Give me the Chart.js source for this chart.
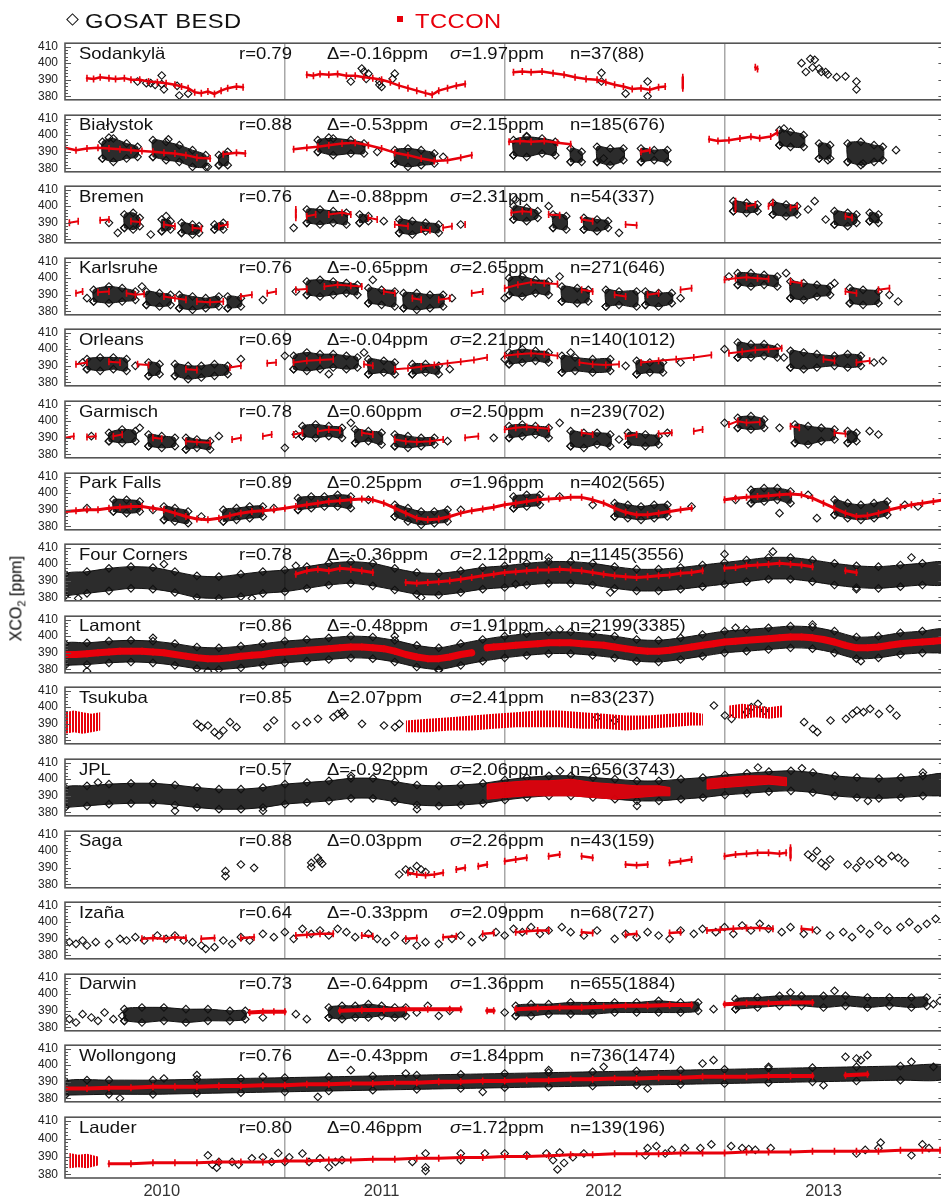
<!DOCTYPE html>
<html>
<head>
<meta charset="utf-8">
<script src="https://cdn.jsdelivr.net/npm/chart.js@4.4.1/dist/chart.umd.min.js"></script>
<style>
html, body { margin: 0; padding: 0; background: #fff; overflow: hidden; }
#wrap { position: relative; width: 941px; height: 1202px; overflow: hidden; font-family: "Liberation Sans", Arial, Helvetica, sans-serif; }
#wrap canvas { position: absolute; left: 0; }
.txt { position: absolute; font-size: 16.5px; line-height: 17px; color: #111; white-space: nowrap; z-index: 5; transform: scaleX(1.12); transform-origin: 0 50%; }
.legend { position: absolute; font-size: 21px; line-height: 21px; letter-spacing: 0.4px; white-space: nowrap; transform: scaleX(1.13); transform-origin: 0 50%; }
</style>
</head>
<body>
<div id="wrap"></div>
<script>
// station labels and statistics
const stationNames = ['Sodankylä', 'Białystok', 'Bremen', 'Karlsruhe', 'Orleans', 'Garmisch', 'Park Falls', 'Four Corners',
  'Lamont', 'Tsukuba', 'JPL', 'Saga', 'Izaña', 'Darwin', 'Wollongong', 'Lauder'];
const rValues = [0.79, 0.88, 0.76, 0.76, 0.69, 0.78, 0.89, 0.78, 0.86, 0.85, 0.57, 0.88, 0.64, 0.73, 0.76, 0.80];
const deltaValues = [-0.16, -0.53, -0.88, -0.65, -0.04, 0.60, 0.25, -0.36, -0.48, 2.07, -0.92, 0.03, -0.33, -0.64, -0.43, 0.46];
const sigmaValues = [1.97, 2.15, 2.31, 2.65, 2.21, 2.50, 1.96, 2.12, 1.91, 2.41, 2.06, 2.26, 2.09, 1.36, 1.84, 1.72];
const nLabels = ['37(88)', '185(676)', '54(337)', '271(646)', '140(1012)', '239(702)', '402(565)', '1145(3556)',
  '2199(3385)', '83(237)', '656(3743)', '43(159)', '68(727)', '655(1884)', '736(1474)', '139(196)'];

const yTickValues = [380, 390, 400, 410];
const yearLines = [2011, 2012, 2013];
const yearLabelAt = [2010.44, 2011.44, 2012.45, 2013.45];

// [year, ppm]; null breaks a run.  Band rows are [year, low, high].
const sodankylaGosat = [[2010.33,389],[2010.37,388],[2010.39,388],[2010.41,387],[2010.44,392.6],[2010.44,387.4],[2010.45,384.3],[2010.51,386.4],[2010.52,380.6],[2010.56,381.7],
  [2011.3,389],[2011.35,396.8],[2011.36,395],[2011.38,393.7],[2011.37,390.6],[2011.43,389],[2011.43,387],[2011.44,385.8],[2011.5,393.7],[2011.49,390.6],
  [2012.44,394.2],[2012.44,389],[2012.55,381.7],[2012.65,389],[2012.65,380.1],
  [2013.35,400],[2013.37,394.7],[2013.39,402.6],[2013.4,397.4],[2013.41,402],[2013.43,396.8],[2013.44,394.7],[2013.46,394.7],[2013.47,393.2],[2013.51,391.6],[2013.55,392.1],[2013.6,389],[2013.6,384.3]];
const sodankylaTccon = [[2010.1,391],[2010.13,390.5],[2010.16,391.5],[2010.2,391],[2010.23,390.5],[2010.27,391],[2010.3,390],[2010.34,390],[2010.38,389],[2010.42,388.5],[2010.46,388],[2010.5,387],[2010.53,386],[2010.56,385],[2010.59,382.5],[2010.62,382],[2010.65,383],[2010.68,381.5],[2010.71,383.5],[2010.74,385],[2010.78,386],[2010.81,385.5], null,
  [2011.1,393],[2011.13,392.5],[2011.16,393.5],[2011.2,393],[2011.24,393.5],[2011.28,392.5],[2011.32,392.5],[2011.36,391.5],[2011.4,391],[2011.44,390],[2011.48,388.5],[2011.52,386.5],[2011.56,385],[2011.6,383.5],[2011.64,382],[2011.67,381],[2011.7,383.5],[2011.74,385],[2011.78,386.5],[2011.82,387.5], null,
  [2012.04,394.5],[2012.08,395],[2012.12,394.5],[2012.17,395],[2012.22,394],[2012.27,393],[2012.32,391.5],[2012.37,390.5],[2012.42,390],[2012.46,388.5],[2012.5,387],[2012.54,386],[2012.58,384.5],[2012.62,385],[2012.66,384],[2012.7,385.5],[2012.73,386], null,
  [2012.81,385],[2012.81,391.5], null, [2013.14,397.5],[2013.15,396.5]];

const bialystokGosat = [[2010.2,398.5],[2010.47,397.5],[2010.65,381],[2011.2,398.5],[2011.42,390],[2011.72,387],[2012.1,399.5],[2012.45,386],[2013.27,404],[2013.47,385],[2013.78,391],[2013.63,383]];
const bialystokGosatBands = [[2010.17,386,396],[2010.22,384,398],[2010.28,386,395],[2010.33,387,393], null,
  [2010.4,387,397],[2010.46,385,396],[2010.52,384,394],[2010.58,381,391],[2010.64,381,388], null, [2010.7,382,388],[2010.74,382,390], null,
  [2011.15,390,397],[2011.22,388,398],[2011.3,389,397],[2011.36,389,395], null, [2011.5,383,391],[2011.56,381,392],[2011.62,382,391],[2011.68,383,389], null,
  [2012.04,388,397],[2012.1,387,399],[2012.17,389,398],[2012.23,388,396], null, [2012.3,384,392],[2012.35,384,390], null,
  [2012.42,384,393],[2012.48,382,392],[2012.54,385,392], null, [2012.62,384,392],[2012.68,385,391],[2012.74,384,391], null,
  [2013.25,394,403],[2013.3,393,402],[2013.36,393,400], null, [2013.43,386,395],[2013.48,386,394], null,
  [2013.56,384,395],[2013.62,382,396],[2013.68,384,394],[2013.72,385,393]];
const bialystokTccon = [[2010.0,392.5],[2010.05,391],[2010.1,392],[2010.15,392.5],[2010.2,392],[2010.25,391.5],[2010.3,391],[2010.35,390.5],[2010.4,390],[2010.45,389.5],[2010.5,389],[2010.55,388],[2010.6,386.5],[2010.66,386], null, [2010.72,388.5],[2010.78,389.5],[2010.82,389], null,
  [2011.04,391.5],[2011.1,392.5],[2011.15,393],[2011.2,394],[2011.26,395],[2011.32,395.5],[2011.38,394],[2011.44,392],[2011.5,389.5],[2011.56,388],[2011.62,386],[2011.68,384.5],[2011.74,385],[2011.8,386.5],[2011.85,388], null,
  [2012.02,396],[2012.07,396.5],[2012.12,396],[2012.18,396.5],[2012.24,395.5],[2012.3,394.5], null, [2012.62,390],[2012.66,391], null,
  [2012.93,397.5],[2012.97,396.5],[2013.02,397],[2013.07,398],[2013.12,399],[2013.16,398.2],[2013.21,399.2],[2013.24,401.5]];

const bremenGosat = [[2010.2,390],[2010.24,384],[2010.39,383],[2010.46,394],[2011.04,387],[2011.45,391],[2011.8,389],[2012.52,384],[2012.2,400],[2013.41,403],[2013.38,398],[2013.46,392],[2012.05,404]];
const bremenGosatBands = [[2010.27,387,395],[2010.31,386,396],[2010.34,388,393], null,
  [2010.44,385,392],[2010.48,386,391], null, [2010.53,384,390],[2010.58,383,389],[2010.61,384,388], null, [2010.68,386,389],[2010.72,386,390], null,
  [2011.1,390,398],[2011.16,389,398],[2011.22,390,397],[2011.28,389,396], null, [2011.34,390,395],[2011.38,391,394], null,
  [2011.52,384,392],[2011.58,383,391],[2011.64,385,390],[2011.7,384,389], null,
  [2012.04,392,400],[2012.1,391,399],[2012.15,393,397], null, [2012.22,387,395],[2012.28,386,394], null, [2012.36,386,393],[2012.42,385,392],[2012.47,387,391], null,
  [2013.04,397,403],[2013.1,396,402],[2013.15,397,401], null, [2013.22,395,402],[2013.28,394,401],[2013.33,395,400], null,
  [2013.5,389,397],[2013.56,388,396],[2013.6,390,395], null, [2013.66,391,396],[2013.7,390,395]];
const bremenTccon = [[2010.02,390],[2010.06,391], null, [2010.16,391.5],[2010.2,392], null, [2010.3,391],[2010.34,390.5], null, [2010.45,389],[2010.5,388], null, [2010.58,387],[2010.62,386.5], null, [2010.7,388],[2010.74,389], null,
  [2011.05,393],[2011.05,398], null, [2011.1,394],[2011.14,395], null, [2011.2,395],[2011.26,396],[2011.3,395], null, [2011.38,393],[2011.42,392], null, [2011.5,389],[2011.56,388], null, [2011.62,386],[2011.66,385.5], null, [2011.72,387],[2011.76,388], null, [2011.82,389], null,
  [2012.03,396],[2012.08,397],[2012.12,396.5], null, [2012.2,395],[2012.25,394.5], null, [2012.35,392],[2012.4,391], null, [2012.55,389],[2012.6,388.5], null,
  [2013.05,398],[2013.05,403], null, [2013.1,400],[2013.14,401], null, [2013.2,400],[2013.22,402], null, [2013.3,399],[2013.33,400], null, [2013.55,394],[2013.58,393]];

const karlsruheGosat = [[2010.1,388],[2010.35,395],[2010.9,387],[2011.05,392],[2011.4,399],[2011.76,388],[2012.0,388],[2012.25,401],[2012.8,388],[2013.02,401],[2013.5,397],[2013.75,390],[2013.79,386],[2013.28,403]];
const karlsruheGosatBands = [[2010.13,386,393],[2010.2,385,395],[2010.26,386,394],[2010.32,387,392], null,
  [2010.37,384,392],[2010.43,383,391],[2010.48,384,390], null, [2010.52,382,390],[2010.58,381,389],[2010.64,382,388],[2010.7,383,389], null, [2010.74,382,389],[2010.8,383,388], null,
  [2011.1,390,398],[2011.16,389,399],[2011.22,390,398],[2011.28,391,397],[2011.33,390,396], null,
  [2011.38,385,394],[2011.44,384,393],[2011.5,383,392], null, [2011.54,382,391],[2011.6,381,391],[2011.66,382,390],[2011.72,383,390], null,
  [2012.02,390,400],[2012.08,389,401],[2012.14,391,399],[2012.2,390,398], null, [2012.26,386,395],[2012.33,385,394],[2012.38,386,393], null,
  [2012.46,383,393],[2012.52,384,392],[2012.6,383,392], null, [2012.64,384,392],[2012.7,383,391],[2012.76,385,391], null,
  [2013.06,396,403],[2013.12,395,403],[2013.18,396,402],[2013.24,395,401], null, [2013.3,388,398],[2013.36,387,397],[2013.42,389,396],[2013.48,390,395], null,
  [2013.57,385,394],[2013.63,384,393],[2013.7,385,392]];
const karlsruheTccon = [[2010.05,391],[2010.08,392], null, [2010.15,391.5],[2010.2,392], null, [2010.28,391],[2010.32,390],[2010.36,390.5], null, [2010.45,389],[2010.5,388],[2010.55,387], null, [2010.6,386],[2010.66,385.5],[2010.72,386], null, [2010.8,389],[2010.85,390], null, [2010.92,391],[2010.96,392], null,
  [2011.05,393],[2011.1,393.5], null, [2011.18,395],[2011.24,396],[2011.3,395.5],[2011.35,395], null, [2011.45,392],[2011.5,391], null, [2011.58,388],[2011.62,387], null, [2011.7,387],[2011.75,388], null, [2011.85,391],[2011.9,392], null,
  [2012.0,394],[2012.06,396],[2012.12,397.5],[2012.18,397],[2012.24,396.5], null, [2012.35,393],[2012.4,392], null, [2012.5,390],[2012.55,389], null, [2012.65,390],[2012.7,391], null, [2012.8,393],[2012.85,394], null,
  [2013.0,399],[2013.05,400],[2013.1,400.5],[2013.15,400],[2013.2,399.5], null, [2013.3,398],[2013.35,397], null, [2013.55,392],[2013.6,391], null, [2013.7,393],[2013.75,394]];

const orleansGosat = [[2010.08,392],[2010.32,390],[2010.8,394],[2011.0,396],[2011.36,398],[2011.75,388],[2012.0,394],[2012.55,390],[2012.8,392],[2013.0,400],[2013.27,395],[2013.68,392],[2013.72,393],[2012.3,398],[2011.2,385]];
const orleansGosatBands = [[2010.1,388,394],[2010.16,387,395],[2010.22,388,395],[2010.28,387,394], null,
  [2010.38,384,392],[2010.43,385,391], null, [2010.5,384,391],[2010.56,382,390],[2010.62,383,390],[2010.68,384,391],[2010.74,385,390], null,
  [2011.04,388,396],[2011.1,387,398],[2011.16,388,397],[2011.22,389,397],[2011.28,388,396],[2011.33,389,395], null,
  [2011.38,385,394],[2011.45,386,393],[2011.5,385,392], null, [2011.58,385,391],[2011.64,386,391],[2011.7,385,390], null,
  [2012.02,391,398],[2012.08,392,400],[2012.14,393,399],[2012.2,392,398], null, [2012.26,386,396],[2012.32,387,395],[2012.4,386,394],[2012.48,387,394], null,
  [2012.6,385,393],[2012.66,386,392],[2012.72,386,392], null,
  [2013.06,395,404],[2013.12,395,403],[2013.18,396,403],[2013.24,395,401], null,
  [2013.3,389,399],[2013.36,388,398],[2013.42,389,397],[2013.5,390,396],[2013.56,389,397],[2013.62,390,396]];
const orleansTccon = [[2010.05,391],[2010.1,392], null, [2010.2,392.5],[2010.25,392], null, [2010.33,391],[2010.38,390.5], null, [2010.55,388],[2010.6,387.5], null, [2010.75,389],[2010.8,390], null, [2010.92,391.5],[2010.96,392], null,
  [2011.04,392],[2011.1,393],[2011.16,393.5],[2011.22,394], null, [2011.36,391],[2011.4,390], null,
  [2011.5,388],[2011.56,388.5],[2011.62,389.5],[2011.68,390.5],[2011.74,391.5],[2011.8,392.5],[2011.86,393.5],[2011.92,395], null,
  [2012.0,396],[2012.06,397],[2012.12,397.5],[2012.18,397],[2012.24,396], null, [2012.34,392],[2012.4,391],[2012.46,390.5],[2012.52,391], null,
  [2012.62,392],[2012.7,393],[2012.78,394],[2012.86,395],[2012.94,396.5], null,
  [2013.02,397.5],[2013.08,398.5],[2013.14,399.5],[2013.2,400],[2013.26,400.5], null, [2013.45,394],[2013.5,393], null, [2013.6,392],[2013.66,393]];

const garmischGosat = [[2010.12,391],[2010.34,396],[2010.7,391],[2011.0,384],[2011.05,392],[2011.3,399],[2011.74,388],[2012.25,399],[2012.52,389],[2012.74,393],[2013.0,399],[2013.25,396],[2013.66,394],[2013.7,392],[2011.95,390]];
const garmischGosatBands = [[2010.2,388,393],[2010.26,387,395],[2010.32,388,394], null,
  [2010.38,385,392],[2010.44,384,391],[2010.5,385,390], null, [2010.55,383,390],[2010.6,384,389],[2010.66,383,388], null,
  [2011.08,391,397],[2011.14,390,398],[2011.2,391,397],[2011.26,390,396], null,
  [2011.32,387,395],[2011.38,388,394],[2011.44,386,393], null, [2011.5,385,392],[2011.56,384,391],[2011.62,385,390],[2011.68,386,390], null,
  [2012.02,390,397],[2012.08,391,398],[2012.14,392,397],[2012.2,390,396], null,
  [2012.3,385,394],[2012.36,384,393],[2012.42,386,393],[2012.48,385,392], null, [2012.56,386,393],[2012.64,385,392],[2012.7,386,391], null,
  [2013.06,396,402],[2013.12,395,403],[2013.18,396,401], null, [2013.32,387,398],[2013.38,386,397],[2013.44,388,396],[2013.5,389,395], null, [2013.56,387,394],[2013.6,388,393]];
const garmischTccon = [[2010.0,390],[2010.04,391], null, [2010.1,390.5],[2010.14,391], null, [2010.22,391],[2010.26,392], null, [2010.4,390],[2010.44,389.5], null, [2010.55,388],[2010.6,387.5],[2010.66,387], null, [2010.76,389],[2010.8,390], null, [2010.9,391],[2010.94,392], null,
  [2011.04,392],[2011.08,393], null, [2011.15,394],[2011.2,395],[2011.25,394.5], null, [2011.35,393],[2011.4,392], null, [2011.5,389],[2011.55,388],[2011.6,387.5],[2011.66,388],[2011.72,389], null, [2011.82,390],[2011.88,391], null,
  [2012.0,395],[2012.05,396],[2012.1,396.5],[2012.15,396],[2012.2,395.5], null, [2012.35,393],[2012.4,392], null, [2012.55,391],[2012.6,392], null, [2012.7,392.5],[2012.76,393], null, [2012.86,394],[2012.9,395], null,
  [2013.02,398],[2013.06,400],[2013.1,399],[2013.16,399.5], null, [2013.3,397],[2013.34,396], null, [2013.5,393],[2013.55,392.5]];

const parkFallsGosat = [[2010.1,391],[2010.4,390],[2010.62,386],[2010.95,391],[2011.38,396],[2011.8,390],[2012.25,398],[2012.4,393],[2012.85,392],[2013.05,396],[2013.38,399],[2013.25,388],[2013.42,385],[2013.82,393],[2013.88,392]];
const parkFallsGosatBands = [[2010.22,389,396],[2010.28,388,396],[2010.34,389,395], null,
  [2010.45,384,392],[2010.5,383,391],[2010.56,382,389], null,
  [2010.72,383,390],[2010.78,384,391],[2010.84,385,392],[2010.9,386,392], null,
  [2011.06,390,397],[2011.12,391,398],[2011.18,392,398],[2011.24,392,399],[2011.3,391,398], null,
  [2011.5,386,393],[2011.56,383,391],[2011.62,381,389],[2011.68,382,389],[2011.74,383,390], null,
  [2012.04,391,398],[2012.1,392,399],[2012.16,393,399], null,
  [2012.5,386,394],[2012.56,385,393],[2012.62,384,392],[2012.68,385,393],[2012.74,386,393], null,
  [2013.12,394,402],[2013.18,395,403],[2013.24,396,403],[2013.3,394,401], null,
  [2013.5,387,396],[2013.56,385,394],[2013.62,384,393],[2013.68,385,394],[2013.74,387,395]];
const parkFallsTccon = [[2010.0,389],[2010.05,389.5],[2010.1,390],[2010.15,390],[2010.2,391],[2010.25,391.5],[2010.3,392],[2010.35,392],[2010.4,391],[2010.45,390],[2010.5,388],[2010.55,386],[2010.6,384.5],[2010.65,384],[2010.7,385],[2010.75,386.5],[2010.8,388],[2010.85,389],[2010.9,389.5],[2010.95,390],[2011.0,391],
  [2011.05,392],[2011.1,393],[2011.15,394],[2011.2,395],[2011.25,395.5],[2011.3,396],[2011.35,396.5],[2011.4,396],[2011.45,394],[2011.5,391],[2011.55,388],[2011.6,385],[2011.65,384],[2011.7,384.5],[2011.75,386],[2011.8,388],[2011.85,389.5],[2011.9,390.5],[2011.95,391.5],
  [2012.0,393],[2012.05,394],[2012.1,395],[2012.15,396],[2012.2,396.5],[2012.25,397],[2012.3,397.5],[2012.35,397.5],[2012.4,396],[2012.45,394],[2012.5,391],[2012.55,388.5],[2012.6,387],[2012.65,387],[2012.7,388],[2012.75,389],[2012.8,390],[2012.85,391], null,
  [2013.0,396],[2013.05,397],[2013.1,397.5],[2013.15,398],[2013.2,398.5],[2013.25,399],[2013.3,399.5],[2013.35,399],[2013.4,397],[2013.45,394],[2013.5,391],[2013.55,388],[2013.6,386],[2013.65,386.5],[2013.7,388],[2013.75,390],[2013.8,391.5],[2013.85,393],[2013.9,394],[2013.95,395],[2014.0,396]];

const fourCornersGosat = [[2010.06,379.5],[2010.45,400],[2011.05,399],[2011.62,380],[2012.2,404],[2012.48,383],[2013.0,406],[2013.22,407.5],[2013.6,385],[2013.85,404],[2010.85,379.5],[2012.05,388]];
const fourCornersGosatBands = [[2010.0,381,394],[2010.1,382.5,395.5],[2010.2,384,397.5],[2010.3,385.5,398.5],[2010.4,385,398],[2010.5,383,395.5],[2010.6,380,393],[2010.7,379.5,392.5],[2010.8,380.5,394],[2010.9,382.5,395.5],
  [2011.0,383.5,396.5],[2011.1,385.5,398.5],[2011.2,387.5,400.5],[2011.3,388.5,401.5],[2011.4,387,400.5],[2011.5,384.5,397.5],[2011.6,382,395],[2011.7,381.5,394.5],[2011.8,383,396],[2011.9,385,398],
  [2012.0,386,399],[2012.1,387.5,400.5],[2012.2,388.5,401.5],[2012.3,388.5,401.5],[2012.4,387.5,400.5],[2012.5,385.5,398.5],[2012.6,384,397],[2012.7,384,397],[2012.8,385,398],[2012.9,386.5,399.5],
  [2013.0,388,401],[2013.1,389.5,402.5],[2013.2,391,404],[2013.3,391,404],[2013.4,389.5,402.5],[2013.5,387.5,400.5],[2013.6,386,399],[2013.7,385.5,398.5],[2013.8,386.5,399.5],[2013.9,387.5,400.5],[2014.0,388,401]];
const fourCornersTccon = [[2011.05,394],[2011.1,396],[2011.15,397],[2011.2,396],[2011.25,397.5],[2011.3,397],[2011.35,396],[2011.4,395], null,
  [2011.55,389],[2011.6,388.5],[2011.65,389],[2011.7,389.5],[2011.75,390],[2011.8,391],[2011.85,392],[2011.9,393],[2011.95,394],[2012.0,395],[2012.05,395.5],[2012.1,396],[2012.15,396.5],[2012.2,396.5],[2012.25,397],[2012.3,396.5],[2012.35,396],[2012.4,395],[2012.45,394],[2012.5,393],[2012.55,392.5],[2012.6,392],[2012.65,392.5],[2012.7,393],[2012.75,393.5],[2012.8,394.5],[2012.85,395],[2012.9,396], null,
  [2013.0,397.5],[2013.05,398],[2013.1,399],[2013.15,399.5],[2013.2,400],[2013.25,400.5],[2013.3,400],[2013.35,399.5],[2013.4,398.5], null, [2013.55,396],[2013.6,395]];

const lamontGosat = [[2010.1,379],[2010.65,379],[2011.5,400],[2011.7,379.5],[2012.25,404],[2013.05,405],[2013.4,407],[2013.62,385],[2010.4,399]];
const lamontGosatBands = [[2010.0,382.5,395.5],[2010.1,383,396],[2010.2,384,397],[2010.3,384.5,397.5],[2010.4,384,397],[2010.5,382.5,395.5],[2010.6,380.5,393.5],[2010.7,380,393],[2010.8,381,394],[2010.9,382.5,395.5],
  [2011.0,384,397],[2011.1,385,398],[2011.2,386,399],[2011.3,387,400],[2011.4,386.5,399.5],[2011.5,384.5,397.5],[2011.6,381.5,394.5],[2011.7,380,393],[2011.8,382.5,395.5],[2011.9,385,398],
  [2012.0,387,400],[2012.1,388.5,401.5],[2012.2,389.5,402.5],[2012.3,389.5,402.5],[2012.4,388.5,401.5],[2012.5,387,400],[2012.6,385,398],[2012.7,384.5,397.5],[2012.8,386,399],[2012.9,388,401],
  [2013.0,390,403],[2013.1,391,404],[2013.2,392,405],[2013.3,393,406],[2013.4,392.5,405.5],[2013.5,390,403],[2013.6,386.5,399.5],[2013.7,387,400],[2013.8,389,402],[2013.9,390,403],[2014.0,391,404]];
const lamontTccon = [[2010.0,389],[2010.05,389],[2010.1,389.5],[2010.15,390],[2010.2,390.5],[2010.25,391],[2010.3,391],[2010.35,391],[2010.4,390.5],[2010.45,390],[2010.5,389],[2010.55,388],[2010.6,387],[2010.65,386.5],[2010.7,386.5],[2010.75,387],[2010.8,388],[2010.85,388.5],[2010.9,389],[2010.95,390],
  [2011.0,390.5],[2011.05,391],[2011.1,391.5],[2011.15,392],[2011.2,392.5],[2011.25,393],[2011.3,393.5],[2011.35,393.5],[2011.4,393],[2011.45,392.5],[2011.5,391],[2011.55,389],[2011.6,387.5],[2011.65,386.5],[2011.7,386.5],[2011.75,387.5],[2011.8,389],[2011.85,390], null,
  [2011.92,393],[2011.95,393.5],[2012.0,394],[2012.05,394.5],[2012.1,395],[2012.15,395.5],[2012.2,396],[2012.25,396],[2012.3,396],[2012.35,395.5],[2012.4,395],[2012.45,394.5],[2012.5,393.5],[2012.55,392.5],[2012.6,391.5],[2012.65,391],[2012.7,391],[2012.75,391.5],[2012.8,392.5],[2012.85,393.5],[2012.9,394.5],[2012.95,395.5],
  [2013.0,396.5],[2013.05,397],[2013.1,397.5],[2013.15,398],[2013.2,398.5],[2013.25,399],[2013.3,399.5],[2013.35,399.5],[2013.4,399],[2013.45,398],[2013.5,396.5],[2013.55,394.5],[2013.6,393],[2013.65,393],[2013.7,393.5],[2013.75,394.5],[2013.8,395.5],[2013.85,396],[2013.9,396.5],[2013.95,397],[2014.0,397.5]];

const tsukubaGosat = [[2010.6,390],[2010.62,388],[2010.65,389],[2010.68,385],[2010.7,383],[2010.72,386],[2010.75,391],[2010.78,388],[2010.92,388],[2010.95,392],[2011.05,389],[2011.1,391],[2011.15,393],[2011.22,394],[2011.24,396],[2011.26,397],[2011.27,395],[2011.35,390],[2011.45,389],[2011.5,388],[2011.52,390],
  [2012.42,394],[2012.5,392],[2012.95,401],[2013.0,395],[2013.03,393],[2013.1,397],[2013.12,400],[2013.15,402],[2013.18,398],[2013.36,391],[2013.4,387],[2013.42,385],[2013.48,392],[2013.55,393],[2013.58,396],[2013.6,398],[2013.63,397],[2013.66,399],[2013.7,396],[2013.75,399],[2013.78,395]];
const tsukubaTcconBands = [[2010.0,384,397],[2010.04,385,398],[2010.08,384,397],[2010.12,385,396],[2010.16,386,397], null,
  [2011.55,385,392],[2011.65,385,393],[2011.75,386,394],[2011.85,386,395],[2011.95,387,396],[2012.05,388,397],[2012.15,388,398],[2012.25,388,398],[2012.35,387,397],[2012.45,387,396],[2012.55,386,395],[2012.65,387,395],[2012.75,388,396],[2012.85,389,397],[2012.9,389,396], null,
  [2013.02,394,401],[2013.08,393,402],[2013.14,394,401],[2013.2,393,400],[2013.26,394,401]];

const jplGosat = [[2010.15,398],[2010.5,381],[2011.3,402],[2011.6,382],[2012.25,405],[2012.6,384],[2013.15,407],[2013.35,406.5],[2013.65,387],[2013.9,404],[2010.9,381]];
const jplGosatBands = [[2010.0,383,395],[2010.1,384,396],[2010.2,385,397],[2010.3,385.5,397.5],[2010.4,385.5,397.5],[2010.5,384.5,396.5],[2010.6,383,395],[2010.7,382,394],[2010.8,382,394],[2010.9,383,395],
  [2011.0,385,397],[2011.1,386,398],[2011.2,387,399],[2011.3,388.5,400.5],[2011.4,388.5,400.5],[2011.5,386.5,398.5],[2011.6,384.5,396.5],[2011.7,384,396],[2011.8,384.5,396.5],[2011.9,385.5,397.5],
  [2012.0,387.5,399.5],[2012.1,389,401],[2012.2,390,402],[2012.3,390,402],[2012.4,389,401],[2012.5,388,400],[2012.6,387,399],[2012.7,387,399],[2012.8,388,400],[2012.9,389,401],
  [2013.0,390.5,402.5],[2013.1,391.5,403.5],[2013.2,392.5,404.5],[2013.3,393,405],[2013.4,392,404],[2013.5,390,402],[2013.6,389,401],[2013.7,388.5,400.5],[2013.8,389,401],[2013.9,390,402],[2014.0,391,403]];
const jplTcconBands = [[2011.92,388,397],[2012.0,389,398],[2012.1,390,399],[2012.2,390,399],[2012.3,390,400],[2012.4,389,398],[2012.5,388,397],[2012.6,389,396],[2012.7,390,396],[2012.75,390,395], null,
  [2012.92,394,400],[2013.0,395,401],[2013.1,396,402],[2013.2,397,402],[2013.28,396,401]];

const sagaGosat = [[2010.73,388],[2010.73,385],[2010.8,392],[2010.86,390],[2011.12,393],[2011.12,390.5],[2011.15,396],[2011.16,394],[2011.17,392.5],
  [2011.52,386],[2011.55,389],[2011.57,388],[2011.6,391],[2011.62,389],[2011.64,387.5],
  [2013.38,398],[2013.4,396],[2013.42,400],[2013.44,393],[2013.46,391],[2013.48,395],[2013.56,392],[2013.6,390],[2013.62,394],[2013.66,392],[2013.7,395],[2013.72,393],[2013.76,397],[2013.79,396],[2013.82,393]];
const sagaTccon = [[2011.56,387],[2011.6,386],[2011.64,385.5],[2011.68,386],[2011.72,387], null, [2011.78,389],[2011.82,390], null, [2011.88,391],[2011.92,392], null,
  [2012.0,394],[2012.05,395],[2012.1,396], null, [2012.2,397],[2012.25,398], null, [2012.35,397],[2012.4,396], null, [2012.55,392],[2012.6,391.5],[2012.65,392], null, [2012.75,393],[2012.8,394],[2012.85,395], null,
  [2013.0,397],[2013.05,398],[2013.1,398.5],[2013.15,399],[2013.2,399],[2013.25,398.5],[2013.28,399], null, [2013.3,396],[2013.3,402]];

const izanaGosat = [[2010.02,388],[2010.05,387],[2010.08,389],[2010.1,386],[2010.14,388],[2010.2,387],[2010.25,390],[2010.28,389],[2010.32,391],[2010.36,389],[2010.42,392],[2010.46,390],[2010.5,392],[2010.54,389],[2010.58,388],[2010.62,386],[2010.64,384],[2010.68,385],[2010.72,389],[2010.76,387],[2010.8,391],[2010.84,389],[2010.9,393],[2010.95,391],
  [2011.0,394],[2011.04,390],[2011.08,396],[2011.12,393],[2011.16,395],[2011.2,392],[2011.24,396],[2011.28,394],[2011.32,391],[2011.38,393],[2011.42,390],[2011.46,388],[2011.5,392],[2011.55,389],[2011.6,386],[2011.64,388],[2011.7,387],[2011.76,390],[2011.8,392],[2011.85,388],[2011.9,391],[2011.96,394],
  [2012.0,392],[2012.04,396],[2012.08,394],[2012.12,397],[2012.16,393],[2012.2,395],[2012.26,397],[2012.3,394],[2012.36,392],[2012.42,395],[2012.5,390],[2012.55,393],[2012.6,391],[2012.65,394],[2012.7,392],[2012.75,390],[2012.8,395],[2012.86,393],[2012.9,396],[2012.96,394],
  [2013.0,397],[2013.04,393],[2013.08,398],[2013.12,395],[2013.16,399],[2013.2,396],[2013.26,394],[2013.3,397],[2013.36,393],[2013.42,395],[2013.48,392],[2013.54,394],[2013.58,391],[2013.62,396],[2013.66,393],[2013.7,398],[2013.74,395],[2013.8,397],[2013.84,400],[2013.88,396],[2013.92,399],[2013.96,402]];
const izanaTccon = [[2010.35,390],[2010.4,390.5],[2010.45,390],[2010.5,391],[2010.55,390.5], null, [2010.62,390],[2010.68,390.5], null, [2010.8,390.5],[2010.86,391], null,
  [2011.05,392],[2011.1,392.5],[2011.16,393],[2011.22,393], null, [2011.35,392],[2011.4,391.5], null, [2011.55,390],[2011.6,390.5], null, [2011.72,391],[2011.78,391.5], null, [2011.9,393],[2011.95,393.5], null,
  [2012.05,394],[2012.1,394.5],[2012.15,395],[2012.2,395], null, [2012.35,394],[2012.4,393.5], null, [2012.55,392.5],[2012.6,393], null, [2012.75,393.5],[2012.8,394], null,
  [2012.92,395],[2012.98,395.5],[2013.04,396],[2013.1,396.5],[2013.16,396.5],[2013.22,396], null, [2013.35,396],[2013.4,395.5]];

const darwinGosat = [[2010.02,385],[2010.05,383],[2010.08,388],[2010.12,386],[2010.15,384],[2010.18,389],[2010.22,385],[2010.26,387],[2010.9,386],[2011.05,388],[2011.1,385],[2011.6,389],[2011.65,393],[2011.7,387],[2011.75,390],[2012.0,389],[2012.95,391],[2013.3,401],[2013.5,402],[2013.95,394],[2013.98,396]];
const darwinGosatBands = [[2010.27,384,391],[2010.35,383,392],[2010.45,384,392],[2010.55,383,391],[2010.65,384,391],[2010.75,384,390],[2010.82,385,390], null,
  [2011.2,386,392],[2011.26,385,393],[2011.32,386,393],[2011.38,386,394],[2011.44,387,393],[2011.5,386,392],[2011.55,387,392], null,
  [2012.05,387,393],[2012.12,387,394],[2012.2,388,394],[2012.3,388,395],[2012.4,388,395],[2012.5,389,395],[2012.6,389,395],[2012.7,389,396],[2012.8,389,395],[2012.88,390,395], null,
  [2013.05,391,397],[2013.15,392,398],[2013.25,393,399],[2013.35,393,399],[2013.45,392,399],[2013.55,393,399],[2013.65,392,398],[2013.75,393,398],[2013.85,392,398],[2013.92,393,398]];
const darwinTccon = [[2010.84,389],[2010.9,389.5],[2010.95,389.5],[2011.0,389.5], null,
  [2011.25,390],[2011.35,390.5],[2011.45,390.5],[2011.55,391],[2011.65,391],[2011.75,391],[2011.8,391], null, [2011.92,390],[2011.95,390], null,
  [2012.05,391],[2012.15,391.5],[2012.25,392],[2012.35,392],[2012.45,392.5],[2012.55,393],[2012.65,393],[2012.75,393.5],[2012.85,393.5], null,
  [2013.0,394],[2013.1,394.5],[2013.2,394.5],[2013.3,395],[2013.4,395]];

const wollongongGosat = [[2013.55,405],[2013.6,404],[2013.65,406],[2013.62,403],[2012.95,403],[2012.9,401],[2011.3,397],[2010.6,394],[2013.85,402],[2013.95,399],[2012.45,399],[2011.15,381],[2010.25,380],
  [2010.1,391],[2010.45,392],[2010.9,393],[2011.55,395],[2011.9,384],[2012.2,397],[2012.65,386],[2013.2,399],[2013.45,388]];
const wollongongGosatBands = [[2010.0,382,390.5],[2010.2,382.5,391],[2010.4,382.5,391],[2010.6,383,391.5],[2010.8,383.5,392],[2011.0,384,392.5],[2011.2,384.5,393],[2011.4,385,393.5],[2011.6,385.5,394],[2011.8,386,394.5],
  [2012.0,386.5,395],[2012.2,387,395.5],[2012.4,387.5,396],[2012.6,388,396.5],[2012.8,388.5,397],[2013.0,389,397.5],[2013.2,389.5,398],[2013.4,390,398.5],[2013.6,390.5,399],[2013.8,391,399.5],[2014.0,391.5,400]];
const wollongongTccon = [[2010.0,386],[2010.1,386],[2010.2,386.5],[2010.3,386.5],[2010.4,387],[2010.5,387],[2010.6,387],[2010.7,387.5],[2010.8,387.5],[2010.9,388],[2011.0,388],[2011.1,388.5],[2011.2,388.5],[2011.3,389],[2011.4,389],[2011.5,389.5],[2011.6,389.5],[2011.7,390],[2011.8,390],[2011.9,390.5],
  [2012.0,390.5],[2012.1,391],[2012.2,391],[2012.3,391.5],[2012.4,391.5],[2012.5,392],[2012.6,392],[2012.7,392.5],[2012.8,392.5],[2012.9,393],[2013.0,393],[2013.1,393],[2013.2,393.5],[2013.3,393.5],[2013.4,393.5], null, [2013.55,394],[2013.65,394.5]];

const lauderGosat = [[2010.65,390.7],[2010.67,385.5],[2010.69,383.8],[2010.7,387],[2010.76,387],[2010.79,385.5],[2010.85,389],[2010.9,389.6],[2010.94,387],[2010.97,392],[2011.0,387],[2011.02,389.6],[2011.08,391.7],[2011.11,387],[2011.16,389],[2011.2,384],[2011.23,387],[2011.26,388],
  [2011.58,387],[2011.64,391.7],[2011.64,384],[2011.64,382],[2011.8,391.7],[2011.8,388],[2011.91,391.7],[2012.0,391.7],[2012.1,390.7],[2012.19,391.7],[2012.22,388],[2012.24,382.8],[2012.25,392.2],[2012.27,386.4],[2012.31,389.6],[2012.36,391.7],
  [2012.64,390.7],[2012.65,394.7],[2012.69,395.8],[2012.73,391.7],[2012.76,393.7],[2012.82,394.7],[2012.89,394.7],[2012.94,396.8],[2013.03,395.8],[2013.08,394.7],[2013.11,394.2],[2013.14,393.7],[2013.21,394.7],
  [2013.6,391.7],[2013.64,393.7],[2013.71,397.8],[2013.7,394.7],[2013.85,390.7],[2013.9,396.8],[2013.93,394.7]];
const lauderTcconBands = [[2010.02,383.5,392],[2010.06,384,391],[2010.1,383.5,391.5],[2010.15,385,390]];
const lauderTccon = [[2010.2,386],[2010.3,386],[2010.4,386.5],[2010.5,386.5],[2010.6,386.5],[2010.7,387],[2010.8,387],[2010.9,387],[2011.0,387.5],[2011.1,387.5],[2011.2,388],[2011.3,388],[2011.4,388.5],[2011.5,388.5],[2011.6,389],[2011.7,389],[2011.8,389.5],[2011.9,389.5],
  [2012.0,390],[2012.1,390],[2012.2,390.5],[2012.3,391],[2012.4,391],[2012.5,391.5],[2012.6,391.5],[2012.7,391.5],[2012.8,392],[2012.9,392],[2013.0,392],[2013.1,392.5],[2013.2,392.5],[2013.3,392.5],[2013.4,393],[2013.5,393],[2013.6,393],[2013.7,393],[2013.8,393.5],[2013.9,393.5],[2013.98,393.5]];

const gosatPoints = [sodankylaGosat, bialystokGosat, bremenGosat, karlsruheGosat, orleansGosat, garmischGosat, parkFallsGosat, fourCornersGosat,
  lamontGosat, tsukubaGosat, jplGosat, sagaGosat, izanaGosat, darwinGosat, wollongongGosat, lauderGosat];
const gosatBands = [[], bialystokGosatBands, bremenGosatBands, karlsruheGosatBands, orleansGosatBands, garmischGosatBands, parkFallsGosatBands, fourCornersGosatBands,
  lamontGosatBands, [], jplGosatBands, [], [], darwinGosatBands, wollongongGosatBands, []];
const tcconLines = [sodankylaTccon, bialystokTccon, bremenTccon, karlsruheTccon, orleansTccon, garmischTccon, parkFallsTccon, fourCornersTccon,
  lamontTccon, [], [], sagaTccon, izanaTccon, darwinTccon, wollongongTccon, lauderTccon];
const tcconBands = [[], [], [], [], [], [], [], [], [], tsukubaTcconBands, jplTcconBands, [], [], [], [], lauderTcconBands];

// styling
const RED = '#e8000b';
const tcconWidth = [2.5, 2.5, 2, 2, 2, 2, 3, 3, 7, 3, 3, 2.5, 2.5, 4, 4, 3];
const tcconBandLook = ['', '', '', '', '', '', '', '', '', 'hatch', 'solid', '', '', '', '', 'hatch'];
const PANEL_TOP = 39, PANEL_STEP = 71.6, PANEL_H = 65, PAD = 10, CANVAS_W = 950;

Chart.defaults.font.family = '"Liberation Sans", Arial, Helvetica, sans-serif';

const wrap = document.getElementById('wrap');

// vertical red stripes, like many short TCCON dashes side by side
function hatchPattern() {
	const c = document.createElement('canvas');
	c.width = 3; c.height = 6;
	const g = c.getContext('2d');
	g.fillStyle = RED;
	g.fillRect(0, 0, 2, 6);
	return g.createPattern(c, 'repeat');
}
const HATCH = hatchPattern();

function toPoints(arr) {
	let lastX = 2010;
	return arr.map(p => {
		if (!p) return {x: lastX, y: null};
		lastX = p[0];
		return {x: p[0], y: p[1]};
	});
}

// split band rows at null and turn each run into a closed outline
function toPolygons(arr) {
	const runs = [];
	let cur = [];
	arr.forEach(p => {
		if (p) cur.push(p);
		else { if (cur.length) runs.push(cur); cur = []; }
	});
	if (cur.length) runs.push(cur);
	return runs.map(run => {
		const lo = run.map(p => ({x: p[0], y: p[1]}));
		const hi = run.slice().reverse().map(p => ({x: p[0], y: p[2]}));
		return lo.concat(hi, [lo[0]]);
	});
}

const framePlugin = {
	id: 'frame',
	afterDraw(chart) {
		const {ctx, chartArea: a} = chart;
		const y = chart.scales.y;
		ctx.save();
		ctx.strokeStyle = '#555';
		ctx.lineWidth = 1;
		for (let v = 380; v <= 410; v += 2) {
			const py = Math.round(y.getPixelForValue(v)) + 0.5;
			const len = v % 10 === 0 ? 6 : 3;
			ctx.beginPath();
			ctx.moveTo(a.left, py); ctx.lineTo(a.left + len, py);
			ctx.moveTo(a.right, py); ctx.lineTo(a.right - len, py);
			ctx.stroke();
		}
		ctx.lineWidth = 1.6;
		ctx.strokeRect(a.left, a.top, a.right - a.left, a.bottom - a.top);
		ctx.restore();
	}
};

function makePanel(i) {
	const isLast = i === stationNames.length - 1;
	const top = PANEL_TOP + i * PANEL_STEP;
	const xAxisH = isLast ? 26 : 0;
	const canvas = document.createElement('canvas');
	canvas.width = CANVAS_W;
	canvas.height = PAD + PANEL_H + (isLast ? xAxisH : PAD);
	canvas.style.top = (top - PAD) + 'px';
	wrap.appendChild(canvas);

	const datasets = [];
	const look = tcconBandLook[i];
	toPolygons(tcconBands[i]).forEach(poly => datasets.push({
		data: poly, showLine: true, fill: 'shape',
		backgroundColor: look === 'hatch' ? HATCH : 'rgba(232,0,11,0.9)',
		borderColor: RED, borderWidth: look === 'hatch' ? 0 : 1, pointRadius: 0, order: 0
	}));
	datasets.push({
		data: toPoints(tcconLines[i]), showLine: true, spanGaps: false,
		borderColor: RED, borderWidth: tcconWidth[i], borderJoinStyle: 'round', borderCapStyle: 'round',
		pointStyle: 'line', rotation: 90, pointRadius: 3.5, pointBorderColor: RED, pointBorderWidth: 1.6, order: 0
	});
	toPolygons(gosatBands[i]).forEach(poly => datasets.push({
		data: poly, showLine: true, fill: 'shape', tension: 0.25, backgroundColor: 'rgba(15,15,15,0.88)',
		borderColor: '#111', borderWidth: 1, pointStyle: 'rectRot', pointRadius: 3.8,
		pointBorderColor: '#111', pointBorderWidth: 1.1, pointBackgroundColor: 'rgba(0,0,0,0)', order: 1
	}));
	datasets.push({
		data: toPoints(gosatPoints[i]), showLine: false, pointStyle: 'rectRot', pointRadius: 3.8,
		pointBorderColor: '#111', pointBorderWidth: 1.1, pointBackgroundColor: 'rgba(0,0,0,0)', order: 1
	});

	const xTicks = yearLines.concat(yearLabelAt).sort((a, b) => a - b);

	new Chart(canvas, {
		type: 'scatter',
		data: {datasets: datasets},
		options: {
			responsive: false,
			animation: false,
			devicePixelRatio: 1,
			events: [],
			layout: {padding: {top: PAD, bottom: isLast ? 0 : PAD, left: 0, right: CANVAS_W - 946}},
			plugins: {legend: {display: false}, tooltip: {enabled: false}},
			scales: {
				x: {
					type: 'linear', min: 2010, max: 2014,
					afterBuildTicks: s => { s.ticks = xTicks.map(v => ({value: v})); },
					afterFit: s => { s.height = xAxisH; },
					ticks: {
						display: isLast, autoSkip: false, maxRotation: 0, padding: 4,
						color: '#333', font: {size: 16.5},
						callback: v => Number.isInteger(v) ? '' : String(Math.floor(v))
					},
					grid: {
						drawTicks: false, lineWidth: 1.5,
						color: c => (c.tick && Number.isInteger(c.tick.value)) ? '#a8a8a8' : 'rgba(0,0,0,0)'
					},
					border: {display: false}
				},
				y: {
					min: 378, max: 412,
					afterBuildTicks: s => { s.ticks = yTickValues.map(v => ({value: v})); },
					afterFit: s => { s.width = 65; },
					ticks: {color: '#222', font: {size: 12}, padding: 7},
					grid: {display: false, drawTicks: false},
					border: {display: false}
				}
			}
		},
		plugins: [framePlugin]
	});
}

function addText(html, left, top, cls, style) {
	const d = document.createElement('div');
	d.className = cls || 'txt';
	d.innerHTML = html;
	d.style.left = left + 'px';
	d.style.top = top + 'px';
	if (style) Object.assign(d.style, style);
	wrap.appendChild(d);
	return d;
}

stationNames.forEach((name, i) => {
	makePanel(i);
	const t = PANEL_TOP + i * PANEL_STEP + 5.5;
	addText(name, 79, t);
	addText('r=' + rValues[i].toFixed(2), 239, t);
	addText('Δ=' + deltaValues[i].toFixed(2) + 'ppm', 327, t);
	addText('<i>σ</i>=' + sigmaValues[i].toFixed(2) + 'ppm', 450, t);
	addText('n=' + nLabels[i], 570, t);
});

// legend
const diamond = document.createElement('div');
Object.assign(diamond.style, {position: 'absolute', left: '68px', top: '15px', width: '7px', height: '7px',
	border: '1.4px solid #111', transform: 'rotate(45deg)'});
wrap.appendChild(diamond);
addText('GOSAT BESD', 85, 10, 'legend', {color: '#111'});
const sq = document.createElement('div');
Object.assign(sq.style, {position: 'absolute', left: '397px', top: '16px', width: '6px', height: '6px', background: RED});
wrap.appendChild(sq);
addText('TCCON', 415, 10, 'legend', {color: RED});

// y axis title
addText('XCO<sub style="font-size:11px">2</sub> [ppm]', -31, 587, 'txt', {
	width: '100px', textAlign: 'center', fontSize: '16px', color: '#000', transform: 'rotate(-90deg)', transformOrigin: '50% 50%'
});
</script>
</body>
</html>
